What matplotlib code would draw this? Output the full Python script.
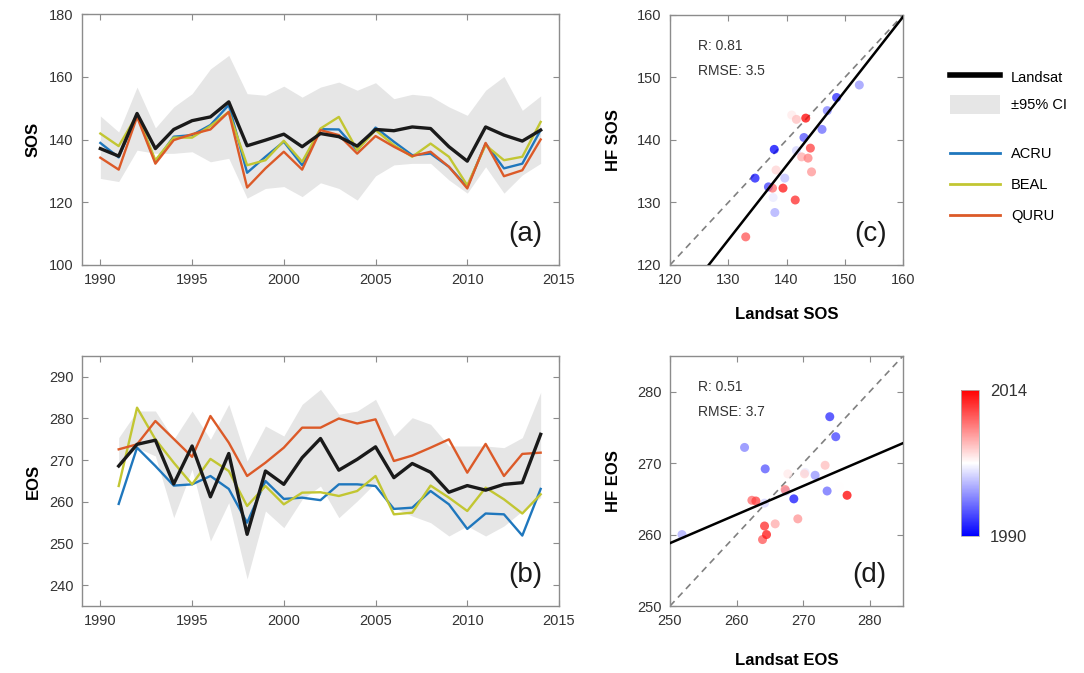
import numpy as np
import matplotlib
matplotlib.use("Agg")
import matplotlib.pyplot as plt
from matplotlib.patches import Patch
from matplotlib.lines import Line2D

plt.rcParams["font.family"] = ["Liberation Sans", "DejaVu Sans"]

# ── data ─────────────────────────────────────────────────────────────────────
years_sos = np.arange(1990, 2015)
landsat_sos = [137.1, 134.7, 148.3, 137.1, 143.2, 146.0, 147.2, 152.0, 138.0, 139.8,
               141.7, 137.7, 141.9, 140.9, 137.9, 143.2, 142.8, 144.0, 143.5, 137.7,
               133.1, 144.0, 141.4, 139.5, 143.0]
acru_sos = [138.9, 134.3, 147.8, 132.9, 140.9, 141.4, 144.6, 151.0, 129.4, 134.5,
            139.3, 131.8, 143.3, 143.2, 136.6, 143.8, 139.3, 135.0, 135.5, 131.3,
            124.9, 138.7, 130.8, 132.3, 143.0]
beal_sos = [141.9, 137.9, 147.8, 133.4, 140.6, 140.6, 144.3, 148.8, 131.8, 133.4,
            139.6, 132.9, 143.5, 147.2, 136.6, 143.0, 138.2, 134.5, 138.7, 134.5,
            125.4, 138.2, 133.4, 134.5, 145.6]
quru_sos = [134.2, 130.4, 147.2, 132.3, 139.8, 141.7, 143.2, 148.8, 124.7, 130.8,
            136.1, 130.4, 143.0, 141.4, 135.5, 141.1, 137.7, 134.7, 136.1, 131.3,
            124.4, 138.9, 128.3, 130.2, 140.0]
ci_sos_hi = [147.5, 142.4, 156.7, 143.7, 150.4, 154.6, 162.5, 166.8, 154.6, 154.1,
             157.0, 153.5, 156.7, 158.3, 155.7, 158.1, 153.0, 154.4, 153.8, 150.4,
             147.7, 155.7, 160.1, 149.3, 153.9]
ci_sos_lo = [127.6, 126.6, 136.6, 135.6, 135.6, 136.1, 132.9, 134.0, 121.3, 124.4,
             125.0, 121.8, 126.2, 124.4, 120.7, 128.4, 131.9, 132.4, 132.4, 127.1,
             122.9, 131.3, 122.9, 128.7, 132.4]

years_eos = np.arange(1991, 2015)
landsat_eos = [268.6, 273.8, 274.8, 264.3, 273.4, 261.2, 271.6, 252.2, 267.4, 264.2,
               270.6, 275.2, 267.6, 270.2, 273.2, 265.8, 269.2, 267.1, 262.3, 263.9,
               262.8, 264.2, 264.6, 276.2]
acru_eos = [259.5, 273.0, 268.6, 263.9, 264.2, 266.2, 263.1, 255.0, 265.0, 260.7,
            261.0, 260.4, 264.2, 264.2, 263.8, 258.3, 258.6, 262.6, 259.4, 253.5,
            257.2, 257.0, 251.9, 263.1]
beal_eos = [263.8, 282.6, 275.0, 269.4, 264.2, 270.3, 267.4, 259.0, 263.8, 259.4,
            262.2, 262.3, 261.4, 262.6, 266.2, 257.0, 257.4, 263.9, 261.0, 257.8,
            263.4, 260.6, 257.2, 261.8]
quru_eos = [272.6, 273.8, 279.4, 275.1, 270.8, 280.6, 274.2, 266.2, 269.4, 273.0,
            277.8, 277.8, 280.0, 278.8, 279.8, 269.8, 271.1, 273.0, 275.0, 267.0,
            273.9, 266.2, 271.5, 271.8]
ci_eos_hi = [275.4, 281.8, 281.8, 275.0, 281.8, 275.0, 283.4, 269.8, 278.2, 275.8,
             283.4, 287.0, 281.0, 281.8, 284.6, 275.8, 280.2, 278.6, 273.4, 273.4,
             273.4, 273.0, 275.4, 286.3]
ci_eos_lo = [269.4, 273.0, 271.0, 256.2, 267.8, 250.6, 259.8, 241.5, 257.8, 253.8,
             260.6, 263.8, 256.2, 260.2, 264.6, 258.6, 256.6, 255.0, 251.8, 254.2,
             251.8, 254.2, 257.8, 261.0]

# scatter: Landsat vs HF, coloured by year
sc_sos_year = [1990, 1991, 1992, 1993, 1994, 1995, 1996, 1997, 1998, 1999, 2000, 2001,
               2002, 2003, 2004, 2005, 2006, 2007, 2008, 2009, 2010, 2011, 2012, 2013, 2014]
sc_sos_landsat = [137.9, 134.6, 148.6, 136.9, 143.0, 146.1, 147.0, 152.5, 138.0, 139.7,
                  141.7, 137.7, 141.0, 140.9, 138.2, 141.7, 142.6, 144.3, 143.7, 137.6,
                  133.0, 144.1, 141.5, 139.4, 143.3]
sc_sos_hf = [138.5, 133.9, 146.8, 132.5, 140.4, 141.7, 144.7, 148.8, 128.4, 133.9,
             138.3, 130.8, 143.6, 144.0, 135.2, 143.3, 137.3, 134.9, 137.1, 132.3,
             124.5, 138.7, 130.4, 132.3, 143.5]

sc_eos_year = [1991, 1992, 1993, 1994, 1995, 1996, 1997, 1998, 1999, 2000, 2001, 2002,
               2003, 2004, 2005, 2006, 2007, 2008, 2009, 2010, 2011, 2012, 2013, 2014]
sc_eos_landsat = [268.6, 274.0, 274.9, 264.3, 273.6, 261.2, 271.8, 251.8, 267.4, 264.2,
                  270.3, 275.4, 267.7, 270.2, 273.3, 265.8, 269.2, 267.3, 262.3, 263.9,
                  262.9, 264.2, 264.5, 276.6]
sc_eos_hf = [265.0, 276.5, 273.7, 269.2, 266.1, 272.2, 268.3, 260.0, 266.1, 264.4,
             268.7, 266.7, 268.5, 268.5, 269.7, 261.5, 262.2, 266.3, 264.8, 259.3,
             264.7, 261.2, 260.0, 265.5]

# regression lines as drawn in the figure (slope, intercept)
sos_fit = (1.19, -30.7)
eos_fit = (0.40, 158.8)

stats_sos = ("R: 0.81", "RMSE: 3.5")
stats_eos = ("R: 0.51", "RMSE: 3.7")

# ── style ────────────────────────────────────────────────────────────────────
C_LANDSAT = "#1a1a1a"
C_ACRU = "#1f77bd"
C_BEAL = "#c2c632"
C_QURU = "#dc5a28"
C_CI = "#e6e6e6"
SPINE = "#8c8c8c"
TXT = "#333333"

W, H = 1084, 673
fig = plt.figure(figsize=(W / 100, H / 100), dpi=100)
fig.patch.set_facecolor("white")


def px_axes(left, top, right, bottom):
    return fig.add_axes([left / W, 1 - bottom / H, (right - left) / W, (bottom - top) / H])


def style_axes(ax):
    for s in ax.spines.values():
        s.set_color(SPINE)
        s.set_linewidth(1.0)
    ax.tick_params(direction="in", top=True, right=True, length=4, width=0.8,
                   color=SPINE, labelcolor=TXT, labelsize=10.5, pad=6)


def ts_panel(ax, years, landsat, acru, beal, quru, lo, hi, ylim, yticks, ylabel, tag):
    ax.fill_between(years, lo, hi, color=C_CI, lw=0, zorder=1)
    ax.plot(years, acru, color=C_ACRU, lw=1.7, zorder=3)
    ax.plot(years, beal, color=C_BEAL, lw=1.7, zorder=3)
    ax.plot(years, quru, color=C_QURU, lw=1.7, zorder=3)
    ax.plot(years, landsat, color=C_LANDSAT, lw=2.4, zorder=4)
    ax.set_xlim(1989, 2015)
    ax.set_xticks([1990, 1995, 2000, 2005, 2010, 2015])
    ax.set_ylim(*ylim)
    ax.set_yticks(yticks)
    ax.set_ylabel(ylabel, fontsize=12, fontweight="bold", labelpad=6)
    ax.text(0.965, 0.07, tag, transform=ax.transAxes, ha="right", va="bottom",
            fontsize=20, color="#1a1a1a")
    style_axes(ax)


def scatter_panel(ax, x, y, yrs, fit, lim, ticks, xlabel, ylabel, stats, tag, xpad):
    ax.plot(lim, lim, ls=(0, (4, 3)), color="#808080", lw=1.2, zorder=1)
    ax.scatter(x, y, c=yrs, cmap="bwr", vmin=1990, vmax=2014, s=42,
               alpha=0.75, edgecolors="none", zorder=2)
    xs = np.array(lim, dtype=float)
    ax.plot(xs, fit[0] * xs + fit[1], color="black", lw=1.8, zorder=3)
    ax.set_xlim(*lim)
    ax.set_ylim(*lim)
    ax.set_xticks(ticks)
    ax.set_yticks(ticks)
    ax.set_xlabel(xlabel, fontsize=12, fontweight="bold", labelpad=xpad)
    ax.set_ylabel(ylabel, fontsize=12, fontweight="bold", labelpad=12)
    ax.text(0.12, 0.875, stats[0], transform=ax.transAxes, va="center",
            fontsize=10, color=TXT)
    ax.text(0.12, 0.775, stats[1], transform=ax.transAxes, va="center",
            fontsize=10, color=TXT)
    ax.text(0.93, 0.07, tag, transform=ax.transAxes, ha="right", va="bottom",
            fontsize=20, color="#1a1a1a")
    style_axes(ax)


ax_a = px_axes(82, 14, 559, 265)
ts_panel(ax_a, years_sos, landsat_sos, acru_sos, beal_sos, quru_sos,
         ci_sos_lo, ci_sos_hi, (100, 180), [100, 120, 140, 160, 180], "SOS", "(a)")

ax_b = px_axes(82, 356, 559, 606)
ts_panel(ax_b, years_eos, landsat_eos, acru_eos, beal_eos, quru_eos,
         ci_eos_lo, ci_eos_hi, (235, 295), [240, 250, 260, 270, 280, 290], "EOS", "(b)")

ax_c = px_axes(670, 15, 903, 265)
scatter_panel(ax_c, sc_sos_landsat, sc_sos_hf, sc_sos_year, sos_fit, (120, 160),
              [120, 130, 140, 150, 160], "Landsat SOS", "HF SOS", stats_sos, "(c)", 14)

ax_d = px_axes(670, 356, 903, 606)
scatter_panel(ax_d, sc_eos_landsat, sc_eos_hf, sc_eos_year, eos_fit, (250, 285),
              [250, 260, 270, 280], "Landsat EOS", "HF EOS", stats_eos, "(d)", 18)

# ── legends ──────────────────────────────────────────────────────────────────
fig.legend(
    handles=[Line2D([0], [0], color="black", lw=4),
             Patch(facecolor=C_CI, edgecolor="none")],
    labels=["Landsat", "±95% CI"],
    loc="center left", bbox_to_anchor=(950 / W, 1 - 91 / H),
    frameon=False, borderpad=0, borderaxespad=0, fontsize=10.5,
    handlelength=3.4, handletextpad=0.8, handleheight=1.6, labelspacing=0.55,
)
fig.legend(
    handles=[Line2D([0], [0], color=C_ACRU, lw=2),
             Line2D([0], [0], color=C_BEAL, lw=2),
             Line2D([0], [0], color=C_QURU, lw=2)],
    labels=["ACRU", "BEAL", "QURU"],
    loc="center left", bbox_to_anchor=(950 / W, 1 - 185 / H),
    frameon=False, borderpad=0, borderaxespad=0, fontsize=10.5,
    handlelength=3.4, handletextpad=0.8, labelspacing=1.15,
)

# ── colorbar ─────────────────────────────────────────────────────────────────
cax = px_axes(961, 390, 979, 536)
sm = plt.cm.ScalarMappable(cmap="bwr", norm=plt.Normalize(1990, 2014))
cb = fig.colorbar(sm, cax=cax, ticks=[1990, 2014])
cb.outline.set_edgecolor("#b0b0b0")
cb.outline.set_linewidth(0.6)
cax.tick_params(length=0, labelsize=12, labelcolor=TXT, pad=8)

fig.savefig("out.png", dpi=100)
